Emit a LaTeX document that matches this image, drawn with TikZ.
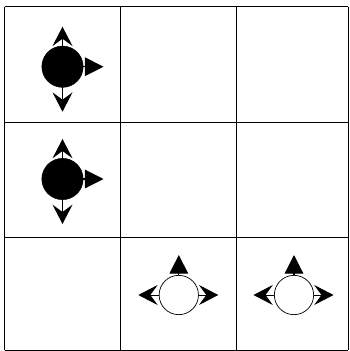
\documentclass[tikz,border=0pt]{standalone}
\usetikzlibrary{arrows.meta}
\tikzset{
  gridline/.style={draw,line width=0.8pt},
  full/.style={circle,draw,fill=black,minimum size=12.4mm,inner sep=0pt},
  empty/.style={circle,draw,fill=white,line width=0.6pt,minimum size=11.8mm,inner sep=0pt},
  barb/.style={-{Stealth[length=5.8mm,width=6mm,inset=2.2mm]},line width=1.3pt},
  tri/.style={-{Triangle[length=5.6mm,width=5.6mm]},line width=1pt}
}
\begin{document}
\begin{tikzpicture}[x=0.3mm,y=-0.3mm]
\useasboundingbox (0,0) rectangle (349,351);
% grid
\foreach \gx in {4.7,120.7,236,348}
  \draw[gridline] (\gx,6.5) -- (\gx,350);
\foreach \gy in {6.5,122.7,237.7,350}
  \draw[gridline] (4.7,\gy) -- (348,\gy);
% filled agents
\node[full] (a1) at (62.5,66.7) {};
\node[full] (a2) at (62.5,179) {};
\foreach \a in {a1,a2}{
  \path (\a) ++(0,-40) coordinate (\a N) (\a) ++(0,45) coordinate (\a S)
        (\a) ++(41,0) coordinate (\a E);
  \draw[barb] (\a.center) -- (\a N);
  \draw[barb] (\a.center) -- (\a S);
  \draw[tri] (\a.center) -- (\a E);
}
% empty agents
\node[empty] (b1) at (178.8,295) {};
\node[empty] (b2) at (294,295) {};
\foreach \b in {b1,b2}{
  \path (\b) ++(0,-40) coordinate (\b N) (\b) ++(-40.5,0) coordinate (\b W)
        (\b) ++(39.5,0) coordinate (\b E);
  \draw[tri] (\b) -- (\b N);
  \draw[barb,line width=0.8pt] (\b) -- (\b W);
  \draw[barb,line width=0.8pt] (\b) -- (\b E);
}
\end{tikzpicture}
\end{document}
